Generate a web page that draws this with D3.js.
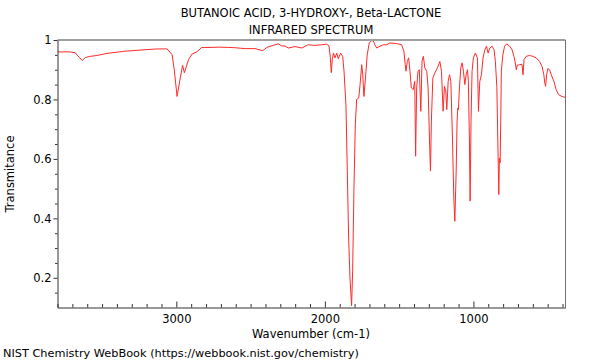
<!DOCTYPE html>
<html>
<head>
<meta charset="utf-8">
<script src="https://cdn.jsdelivr.net/npm/d3@7"></script>
<style>
  html, body { margin: 0; padding: 0; background: #fff; }
  svg { display: block; font-family: "DejaVu Sans", sans-serif; }
</style>
</head>
<body>
<svg id="chart" width="600" height="360"></svg>
<script>
// ---- data ----
const titleLines = ["BUTANOIC ACID, 3-HYDROXY-, Beta-LACTONE", "INFRARED SPECTRUM"];
const xLabel = "Wavenumber (cm-1)";
const yLabel = "Transmitance";
const footer = "NIST Chemistry WebBook (https://webbook.nist.gov/chemistry)";

const xMajorTicks = [3000, 2000, 1000];
const yMajorTicks = [0.2, 0.4, 0.6, 0.8, 1];
const yTickLabels = ["0.2", "0.4", "0.6", "0.8", "1"];

const wavenumbers = [
  3800, 3715, 3681, 3654, 3634, 3612, 3580, 3533, 3466, 3353, 3244, 3129, 3062, 3028, 3013,
  2995, 2977, 2958, 2946, 2917, 2894, 2862, 2829, 2761, 2717, 2650, 2605, 2537, 2470, 2418,
  2391, 2336, 2313, 2290, 2268, 2246, 2201, 2156, 2112, 2067, 2021, 1988, 1972, 1963, 1957,
  1950, 1942, 1932, 1920, 1910, 1894, 1880, 1871, 1858, 1849, 1840, 1831, 1820, 1813, 1804,
  1795, 1786, 1772, 1763, 1752, 1745, 1737, 1723, 1715, 1701, 1685, 1674, 1663, 1651, 1629,
  1607, 1584, 1562, 1517, 1483, 1468, 1459, 1454, 1445, 1436, 1427, 1418, 1405, 1395, 1389,
  1382, 1373, 1364, 1354, 1346, 1337, 1327, 1314, 1305, 1296, 1289, 1283, 1273, 1260, 1242,
  1226, 1215, 1204, 1195, 1186, 1179, 1170, 1161, 1152, 1141, 1132, 1125, 1116, 1110, 1105,
  1101, 1094, 1085, 1076, 1067, 1058, 1049, 1040, 1034, 1027, 1022, 1016, 1009, 1000, 987,
  973, 966, 957, 946, 935, 923, 912, 901, 890, 874, 861, 852, 842, 836, 829,
  825, 820, 816, 812, 802, 790, 776, 756, 740, 727, 718, 711, 705, 688, 673,
  666, 659, 645, 622, 600, 578, 555, 537, 526, 519, 514, 507, 499, 487, 476,
  458, 443, 426, 404, 380
];
const transmittance = [
  0.960, 0.960, 0.957, 0.942, 0.931, 0.941, 0.945, 0.948, 0.955, 0.962, 0.966, 0.970, 0.970, 0.950, 0.896,
  0.810, 0.862, 0.915, 0.890, 0.935, 0.953, 0.960, 0.975, 0.975, 0.976, 0.975, 0.974, 0.971, 0.971, 0.964,
  0.975, 0.984, 0.987, 0.980, 0.980, 0.973, 0.978, 0.973, 0.984, 0.982, 0.984, 0.986, 0.980, 0.940, 0.890,
  0.934, 0.956, 0.940, 0.956, 0.937, 0.956, 0.945, 0.895, 0.780, 0.560, 0.334, 0.200, 0.106, 0.224, 0.503,
  0.715, 0.800, 0.805, 0.850, 0.917, 0.883, 0.810, 0.895, 0.950, 0.990, 0.999, 0.997, 0.984, 0.973, 0.979,
  0.984, 0.984, 0.990, 0.988, 0.984, 0.962, 0.917, 0.895, 0.928, 0.940, 0.895, 0.839, 0.833, 0.861, 0.609,
  0.839, 0.895, 0.900, 0.760, 0.928, 0.945, 0.906, 0.895, 0.839, 0.670, 0.559, 0.727, 0.872, 0.889, 0.906,
  0.928, 0.895, 0.760, 0.844, 0.828, 0.766, 0.861, 0.883, 0.861, 0.670, 0.469, 0.390, 0.559, 0.727, 0.771,
  0.766, 0.839, 0.906, 0.923, 0.895, 0.850, 0.883, 0.900, 0.861, 0.670, 0.458, 0.727, 0.895, 0.940, 0.956,
  0.940, 0.760, 0.861, 0.883, 0.940, 0.967, 0.979, 0.956, 0.973, 0.979, 0.967, 0.928, 0.839, 0.670, 0.480,
  0.603, 0.587, 0.727, 0.895, 0.950, 0.979, 0.987, 0.979, 0.967, 0.945, 0.923, 0.900, 0.915, 0.917, 0.918,
  0.883, 0.934, 0.945, 0.948, 0.945, 0.940, 0.928, 0.910, 0.883, 0.855, 0.844, 0.883, 0.904, 0.900, 0.883,
  0.861, 0.833, 0.816, 0.810, 0.807
];

// ---- layout ----
const svg = d3.select("#chart");
const plot = { left: 57.5, right: 565.5, top: 40, bottom: 307.5 };
const fontSize = 11.5;

const x = d3.scaleLinear().domain([3800, 380]).range([plot.left, plot.right]);
const y = d3.scaleLinear().domain([0.1, 1]).range([plot.bottom, plot.top]);

const points = wavenumbers.map((w, i) => [w, transmittance[i]]);

// clip
svg.append("defs").append("clipPath").attr("id", "clip")
  .append("rect")
  .attr("x", plot.left).attr("y", plot.top)
  .attr("width", plot.right - plot.left).attr("height", plot.bottom - plot.top);

// spectrum line
svg.append("path")
  .datum(points)
  .attr("clip-path", "url(#clip)")
  .attr("fill", "none")
  .attr("stroke", "#ff2a2a")
  .attr("stroke-width", 1)
  .attr("stroke-linejoin", "round")
  .attr("d", d3.line().x(d => x(d[0])).y(d => y(d[1])));

// top and right frame lines
svg.append("line")
  .attr("x1", plot.left).attr("x2", plot.right)
  .attr("y1", plot.top).attr("y2", plot.top)
  .attr("stroke", "#a0a0a0").attr("stroke-width", 2);
svg.append("line")
  .attr("x1", plot.right).attr("x2", plot.right)
  .attr("y1", plot.top).attr("y2", plot.bottom)
  .attr("stroke", "#707070").attr("stroke-width", 1);

// minor ticks
const xMinor = d3.range(400, 3801, 100).filter(v => !xMajorTicks.includes(v));
const yMinor = d3.range(0.15, 1.0001, 0.05).map(v => +v.toFixed(2)).filter(v => !yMajorTicks.includes(v));

const gxMinor = svg.append("g")
  .attr("transform", `translate(0,${plot.bottom})`)
  .call(d3.axisBottom(x).tickValues(xMinor).tickSize(-3.5).tickFormat(""));
gxMinor.select(".domain").remove();

const gyMinor = svg.append("g")
  .attr("transform", `translate(${plot.left},0)`)
  .call(d3.axisLeft(y).tickValues(yMinor).tickSize(2.5).tickFormat(""));
gyMinor.select(".domain").remove();

// major axes
const gx = svg.append("g")
  .attr("transform", `translate(0,${plot.bottom})`)
  .call(d3.axisBottom(x).tickValues(xMajorTicks).tickSize(-6).tickPadding(7).tickSizeOuter(0)
    .tickFormat(d3.format("d")));

const gy = svg.append("g")
  .attr("transform", `translate(${plot.left},0)`)
  .call(d3.axisLeft(y).tickValues(yMajorTicks).tickSize(4).tickPadding(2).tickSizeOuter(0)
    .tickFormat((d, i) => yTickLabels[i]));

svg.selectAll(".tick text").attr("font-size", fontSize).attr("font-family", "DejaVu Sans").attr("fill", "#000");
svg.selectAll(".domain").attr("stroke", "#333");
svg.selectAll(".tick line").attr("stroke", "#333");

// titles
svg.selectAll("text.title").data(titleLines).enter().append("text")
  .attr("class", "title")
  .attr("x", 311).attr("y", (d, i) => 17 + i * 17)
  .attr("text-anchor", "middle")
  .attr("font-size", fontSize)
  .text(d => d);

svg.append("text")
  .attr("x", 311).attr("y", 338)
  .attr("text-anchor", "middle")
  .attr("font-size", fontSize)
  .text(xLabel);

svg.append("text")
  .attr("transform", `translate(14,174) rotate(-90)`)
  .attr("text-anchor", "middle")
  .attr("font-size", fontSize)
  .text(yLabel);

svg.append("text")
  .attr("x", 3).attr("y", 357)
  .attr("font-size", 11.3)
  .text(footer);
</script>
</body>
</html>
